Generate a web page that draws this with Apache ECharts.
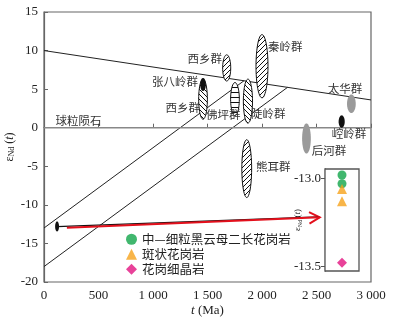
<!DOCTYPE html>
<html>
<head>
<meta charset="utf-8">
<script src="https://cdn.jsdelivr.net/npm/echarts@6/dist/echarts.min.js"></script>
<style>
  html, body { margin: 0; padding: 0; background: #fff; }
  #chart { width: 399px; height: 324px; }
</style>
</head>
<body>
<div id="chart"></div>
<script>
// reference lines, [t (Ma), eNd]
var upperLine = [[0, 10], [3000, 3.6]];
var diagLine1 = [[0, -13], [1835, 6.09]];
var diagLine2 = [[0, -18], [2234, 5.23]];
var churLine = [[0, 0], [3000, 0]];

// evolution arrow of the granites
var arrowBlack = [[120, -12.82], [2520, -11.55]];
var arrowRed = [[210, -12.97], [2530, -11.62]];

// ellipses: centre t, centre eNd, half width (Ma), half height (eNd), fill kind
var ellT = [1676, 1459, 1459, 1752, 1871, 2000, 1860, 2408, 2820, 2731, 120];
var ellV = [7.75, 3.7, 5.6, 3.7, 3.45, 7.97, -5.3, -1.4, 3.1, 0.8, -12.8];
var ellW = [37, 40, 26, 40, 42, 55, 45, 40, 40, 28, 18];
var ellH = [1.7, 2.6, 0.85, 2.15, 2.85, 4.1, 3.75, 1.95, 1.2, 0.8, 0.65];
var ellKind = ['f', 'b', 'black', 'h', 'b', 'f', 'f', 'gray', 'gray', 'black', 'black'];

// group labels
var labNames = ['秦岭群', '西乡群', '张八岭群', '西乡群', '佛坪群', '陡岭群', '熊耳群', '太华群', '崆岭群', '后河群', '球粒陨石'];
var labT = [2054, 1633, 1413, 1432, 1487, 1898, 1944, 2603, 2640, 2457, 105];
var labV = [10.55, 9.0, 6.03, 2.55, 1.64, 1.77, -5.08, 5.13, -0.81, -3.01, 0.87];
var labAlign = ['left', 'right', 'right', 'right', 'left', 'left', 'left', 'left', 'left', 'left', 'left'];

// inset samples
var grainName = '中—细粒黑云母二长花岗岩';
var porphName = '斑状花岗岩';
var aplitName = '花岗细晶岩';
var grainVals = [-12.98, -13.03];
var porphVals = [-13.06, -13.13];
var aplitVals = [-13.48];

function hatch(kind) {
  var c = document.createElement('canvas');
  c.width = 5; c.height = 5;
  var ctx = c.getContext('2d');
  ctx.fillStyle = '#fff';
  ctx.fillRect(0, 0, 5, 5);
  ctx.strokeStyle = '#111';
  ctx.lineWidth = 1;
  ctx.beginPath();
  if (kind === 'h') {
    ctx.moveTo(0, 2.5); ctx.lineTo(5, 2.5);
  } else if (kind === 'f') {
    ctx.moveTo(0, 5); ctx.lineTo(5, 0);
    ctx.moveTo(-1, 1); ctx.lineTo(1, -1);
    ctx.moveTo(4, 6); ctx.lineTo(6, 4);
  } else {
    ctx.moveTo(0, 0); ctx.lineTo(5, 5);
    ctx.moveTo(-1, 4); ctx.lineTo(1, 6);
    ctx.moveTo(4, -1); ctx.lineTo(6, 1);
  }
  ctx.stroke();
  return c;
}
var patterns = { f: hatch('f'), b: hatch('b'), h: hatch('h') };

var ellData = [];
for (var i = 0; i < ellT.length; i++) {
  ellData.push([ellT[i], ellV[i], ellW[i], ellH[i]]);
}
var labData = [];
for (var j = 0; j < labNames.length; j++) {
  labData.push([labT[j], labV[j]]);
}

function pts(vals) {
  return vals.map(function (v) { return [1, v]; });
}

var serif = 'Liberation Serif';
var cjk = 'Noto Sans CJK SC';

var chart = echarts.init(document.getElementById('chart'));
chart.setOption({
  animation: false,
  backgroundColor: '#fff',
  grid: [
    { left: 44, right: 28, top: 12, bottom: 42, containLabel: false, outerBoundsMode: 'none', show: true, borderColor: '#666', borderWidth: 1.2 },
    { left: 325, top: 169, width: 34, height: 102, containLabel: false, outerBoundsMode: 'none', show: true, borderColor: '#555', borderWidth: 1.3, backgroundColor: '#fff', z: 5 }
  ],
  legend: {
    orient: 'vertical',
    left: 126,
    top: 233,
    padding: 0,
    itemGap: 2.5,
    itemWidth: 11,
    itemHeight: 11,
    data: [
      { name: grainName, icon: 'circle' },
      { name: porphName, icon: 'triangle' },
      { name: aplitName, icon: 'diamond' }
    ],
    textStyle: { fontFamily: cjk, fontSize: 12.5, color: '#222' }
  },
  xAxis: [
    {
      gridIndex: 0, type: 'value', min: 0, max: 3000, interval: 500,
      name: '{i|t} (Ma)', nameLocation: 'middle', nameGap: 22, nameMoveOverlap: false,
      nameTextStyle: { fontFamily: serif, fontSize: 13, color: '#222', rich: { i: { fontFamily: serif, fontStyle: 'italic', fontSize: 13 } } },
      axisLine: { lineStyle: { color: '#666', width: 1.2 } },
      axisTick: { inside: true, length: 4, lineStyle: { color: '#666' } },
      axisLabel: {
        fontFamily: serif, fontSize: 13, color: '#222', margin: 7,
        formatter: function (v) { return v >= 1000 ? Math.floor(v / 1000) + ' ' + ('00' + (v % 1000)).slice(-3) : '' + v; }
      },
      splitLine: { show: false }
    },
    { gridIndex: 1, type: 'value', min: 0, max: 2, show: false }
  ],
  yAxis: [
    {
      gridIndex: 0, type: 'value', min: -20, max: 15, interval: 5,
      name: '{e|ε}{s|Nd}{n| (}{i|t}{n|)}', nameLocation: 'middle', nameGap: 28, nameRotate: 90, nameMoveOverlap: false,
      nameTextStyle: {
        color: '#222',
        rich: {
          e: { fontFamily: serif, fontSize: 12 },
          s: { fontFamily: serif, fontSize: 8, padding: [5, 0, 0, 0] },
          n: { fontFamily: serif, fontSize: 12 },
          i: { fontFamily: serif, fontSize: 12, fontStyle: 'italic' }
        }
      },
      axisLine: { show: true, lineStyle: { color: '#666', width: 1.2 } },
      axisTick: { show: true, inside: true, length: 4, lineStyle: { color: '#666' } },
      axisLabel: { fontFamily: serif, fontSize: 13, color: '#222', margin: 6 },
      splitLine: { show: false }
    },
    {
      gridIndex: 1, type: 'value', min: -13.527, max: -12.946,
      name: '{e|ε}{s|Nd}{n| (}{i|t}{n|)}', nameLocation: 'middle', nameGap: 22, nameRotate: 90, nameMoveOverlap: false,
      nameTextStyle: {
        color: '#222',
        rich: {
          e: { fontFamily: serif, fontSize: 9 },
          s: { fontFamily: serif, fontSize: 6, padding: [4, 0, 0, 0] },
          n: { fontFamily: serif, fontSize: 9 },
          i: { fontFamily: serif, fontSize: 9, fontStyle: 'italic' }
        }
      },
      axisLine: { show: true, lineStyle: { color: '#555', width: 1.3 } },
      axisTick: { show: true, length: 4, customValues: [-13.5, -13.0], lineStyle: { color: '#555' } },
      axisLabel: {
        fontFamily: serif, fontSize: 13, color: '#222', margin: 4,
        customValues: [-13.5, -13.0],
        formatter: function (v) { return v.toFixed(1); }
      },
      splitLine: { show: false }
    }
  ],
  series: [
    { type: 'line', data: upperLine, symbol: 'none', lineStyle: { color: '#222', width: 1 }, z: 2 },
    { type: 'line', data: diagLine1, symbol: 'none', lineStyle: { color: '#222', width: 1 }, z: 2 },
    { type: 'line', data: diagLine2, symbol: 'none', lineStyle: { color: '#222', width: 1 }, z: 2 },
    { type: 'line', data: churLine, symbol: 'none', lineStyle: { color: '#888', width: 1.6 }, z: 2 },
    { type: 'line', data: arrowBlack, symbol: 'none', lineStyle: { color: '#111', width: 1.3 }, z: 3 },
    { type: 'line', data: arrowRed, symbol: 'none', lineStyle: { color: '#e3101c', width: 2 }, z: 3 },
    {
      // open arrow head at the end of the red line
      type: 'custom', z: 3,
      data: [[arrowRed[1][0], arrowRed[1][1], arrowRed[0][0], arrowRed[0][1]]],
      renderItem: function (params, api) {
        var tip = api.coord([api.value(0), api.value(1)]);
        var from = api.coord([api.value(2), api.value(3)]);
        var ang = Math.atan2(tip[1] - from[1], tip[0] - from[0]);
        var len = 12, spread = 0.5;
        return {
          type: 'polyline',
          shape: { points: [
            [tip[0] - len * Math.cos(ang - spread), tip[1] - len * Math.sin(ang - spread)],
            tip,
            [tip[0] - len * Math.cos(ang + spread), tip[1] - len * Math.sin(ang + spread)]
          ] },
          style: { stroke: '#e3101c', lineWidth: 2, fill: null }
        };
      }
    },
    {
      type: 'custom', z: 4,
      data: ellData,
      encode: { x: 0, y: 1 },
      renderItem: function (params, api) {
        var c = api.coord([api.value(0), api.value(1)]);
        var s = api.size([api.value(2), api.value(3)]);
        var p = [];
        for (var k = 0; k < 48; k++) {
          var a = k / 48 * Math.PI * 2;
          p.push([c[0] + s[0] * Math.cos(a), c[1] + s[1] * Math.sin(a)]);
        }
        var kind = ellKind[params.dataIndex];
        var style;
        if (kind === 'gray') style = { fill: '#9a9a9a', stroke: null };
        else if (kind === 'black') style = { fill: '#111', stroke: null };
        else style = { fill: { image: patterns[kind], repeat: 'repeat' }, stroke: '#111', lineWidth: 1 };
        return { type: 'polygon', shape: { points: p }, style: style };
      }
    },
    {
      type: 'custom', z: 6,
      data: labData,
      encode: { x: 0, y: 1 },
      renderItem: function (params, api) {
        var c = api.coord([api.value(0), api.value(1)]);
        return {
          type: 'text',
          x: c[0], y: c[1],
          style: {
            text: labNames[params.dataIndex],
            align: labAlign[params.dataIndex],
            verticalAlign: 'middle',
            fontFamily: cjk, fontSize: 11.5, fill: '#333'
          }
        };
      }
    },
    {
      name: grainName, type: 'scatter', xAxisIndex: 1, yAxisIndex: 1, z: 6,
      data: pts(grainVals), symbol: 'circle', symbolSize: 9,
      itemStyle: { color: '#12a54a' }
    },
    {
      name: porphName, type: 'scatter', xAxisIndex: 1, yAxisIndex: 1, z: 6,
      data: pts(porphVals), symbol: 'triangle', symbolSize: 10,
      itemStyle: { color: '#f6a31c' }
    },
    {
      name: aplitName, type: 'scatter', xAxisIndex: 1, yAxisIndex: 1, z: 6,
      data: pts(aplitVals), symbol: 'diamond', symbolSize: 10,
      itemStyle: { color: '#e2137f' }
    }
  ]
});
</script>
</body>
</html>
